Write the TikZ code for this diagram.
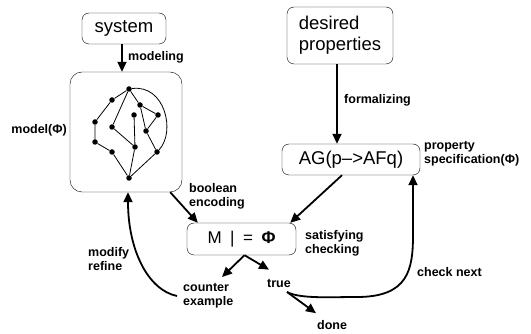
\documentclass[tikz,border=0pt]{standalone}
\usepackage{fontspec}
\setmainfont{Liberation Sans}
\usetikzlibrary{arrows.meta,calc}
\begin{document}
\begin{tikzpicture}[x=1pt,y=-1pt,
  box/.style={draw,thin,rounded corners=7pt,inner sep=0pt},
  big/.style={font=\fontsize{18.5}{21}\selectfont},
  lab/.style={font=\bfseries\fontsize{12.5}{14}\selectfont,align=left,inner sep=0pt},
  arr/.style={line width=1.8pt,-{Triangle[length=10pt,width=9pt]}},
  dot/.style={circle,fill,inner sep=0pt,minimum size=5.5pt},
  edge/.style={line width=0.8pt}]
\useasboundingbox (0,0) rectangle (531,334);
% boxes
\node[box,big,minimum width=84pt,minimum height=31pt] (system) at (124,28.5) {system};
\node[box,big,minimum width=106pt,minimum height=57pt,align=left] (desired) at (340,35.5) {desired\\properties};
\node[box,rounded corners=12pt,minimum width=112pt,minimum height=120pt] (model) at (126,132) {};
\node[box,big,minimum width=138pt,minimum height=31pt] (ag) at (351,159.5) {AG(p–>AFq)};
\node[box,font=\fontsize{17}{20}\selectfont,minimum width=109pt,minimum height=32pt] (m) at (241.5,239) {M\hspace{0.5em}|\hspace{0.5em}=\hspace{0.5em}\textbf{Φ}};
% graph
\node[dot] (a) at (129,89) {};
\node[dot] (b) at (112,100) {};
\node[dot] (c) at (95,122) {};
\node[dot] (d) at (95,142) {};
\node[dot] (e) at (112,152) {};
\node[dot] (f) at (129,178) {};
\node[dot] (g) at (112,127) {};
\node[dot] (h) at (135,147) {};
\node[dot] (i) at (140,105) {};
\node[dot] (j) at (134,115) {};
\node[dot] (k) at (158,115) {};
\node[dot] (l) at (146,131) {};
\node[dot] (mm) at (157,152) {};
\draw[edge] (a)--(b)--(c)--(d)--(e)--(f);
\draw[edge] (a)--(g)--(h)--(f);
\draw[edge] (j)--(h);
\draw[edge] (a)--(i)--(k)--(l)--(mm)--(f);
\draw[edge] (i)--(l);
\draw[edge] (a) .. controls (165,84) and (176,132) .. (mm);
% labels
\node[lab,anchor=west] (lmodeling) at (128,57) {modeling};
\node[lab,anchor=east] (lmodel) at (67,130) {model(Φ)};
\node[lab,anchor=west] (lformal) at (344,100) {formalizing};
\node[lab,anchor=west] (lprop) at (424,154) {property\\specification(Φ)};
\node[lab,anchor=west] (lbool) at (189,196) {boolean\\encoding};
\node[lab,anchor=west] (lsat) at (305,243) {satisfying\\checking};
\node[lab,anchor=west] (lmod) at (88,259) {modify\\refine};
\node[lab,anchor=west] (counter) at (183,296) {counter\\example};
\node[lab,anchor=west] (true) at (267,283) {true};
\node[lab,anchor=west] (lcheck) at (417,272) {check next};
\node[lab,anchor=west] (done) at (317,325) {done};
\coordinate (fork) at (287,292);
% arrows
\draw[arr] (system.south -| 122,0) -- (model.north -| 122,0);
\draw[arr] (desired.south -| 337,0) -- (ag.north -| 337,0);
\draw[arr] ([xshift=-12pt]model.south east) -- ([xshift=11pt]m.north west);
\draw[arr] ([xshift=-9pt]ag.south) -- ([xshift=-6pt]m.north east);
\draw[arr] ([xshift=3pt]m.south) -- (222,277);
\draw[arr] ([xshift=3pt]m.south) -- ([xshift=2pt,yshift=9pt]true.north west);
\draw[arr] (fork) -- ([xshift=-1pt,yshift=7pt]done.north west);
\draw[arr] (fork) .. controls (300,299) and (330,297) .. (357,297)
   .. controls (408,297) and (413,270) .. (413,235) -- (ag.south -| 413,0);
\draw[arr] ([xshift=-6pt]counter.west) .. controls (148,290) and (128,250) .. (model.south -| 128,0);
\end{tikzpicture}
\end{document}
